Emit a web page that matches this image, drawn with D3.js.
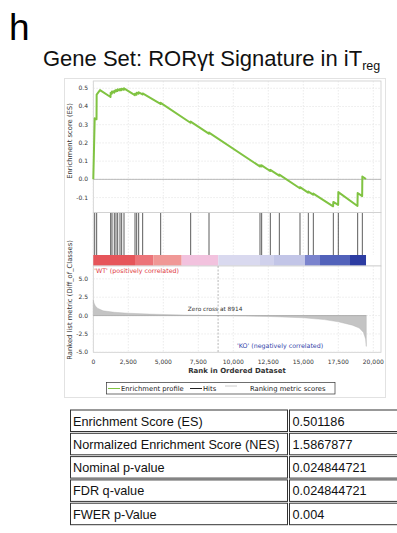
<!DOCTYPE html>
<html>
<head>
<meta charset="utf-8">
<script src="https://cdn.jsdelivr.net/npm/d3@7"></script>
<style>
  body { margin: 0; background: #fff; }
  svg { display: block; }
</style>
</head>
<body>
<div id="chart"></div>
<script>
// running enrichment score
const esRank = [0, 100, 230, 240, 480, 1230, 1240, 1325, 1336, 1490, 1502, 1610, 1621, 1730, 1741, 1895, 1907, 2015, 2026, 2180, 2193,
  2965, 2979, 3085, 3098, 3230, 3241, 3515, 3526, 4800, 4812, 6940, 6955, 8250, 8265, 11895, 11907, 12015, 12026, 12630, 12645,
  13275, 13288, 14750, 14764, 15345, 15360, 15700, 15717, 17130, 17145, 17490, 17502, 18870, 18883, 19205, 19217, 19480];
const esScore = [0, 0.335, 0.33, 0.465, 0.49, 0.452, 0.475, 0.47, 0.483, 0.476, 0.487, 0.482, 0.49, 0.485, 0.494, 0.488, 0.496, 0.49, 0.498, 0.492, 0.5,
  0.462, 0.47, 0.465, 0.476, 0.47, 0.478, 0.466, 0.472, 0.414, 0.42, 0.311, 0.317, 0.251, 0.257, 0.071, 0.077, 0.071, 0.077, 0.046, 0.052,
  0.02, 0.026, -0.049, -0.043, -0.073, -0.067, -0.084, -0.078, -0.148, -0.124, -0.14, -0.07, -0.146, -0.075, -0.092, 0.015, 0.002];

// gene set members in the ranked list
const hits = [100, 240, 1240, 1336, 1502, 1621, 1741, 1907, 2026, 2193, 2979, 3098, 3241, 3526, 4812, 6955, 8265,
  11907, 12026, 12645, 13288, 14764, 15360, 15717, 17145, 17502, 18883, 19217];

// ranked list metric
const metricRank = [0, 50, 150, 300, 700, 1500, 2500, 4000, 5000, 6500, 8000, 8914, 10000, 12500, 15000, 16500, 17500, 18500, 19000, 19300, 19450, 19500];
const metricValue = [2.1, 1.7, 1.3, 1.0, 0.65, 0.45, 0.32, 0.2, 0.15, 0.08, 0.03, 0, -0.04, -0.12, -0.3, -0.55, -0.85, -1.3, -1.7, -2.3, -3.2, -4.2];
const zeroCross = 8914;

// heat bar blocks
const bandStart = [0, 2979, 4288, 6312, 8930, 11907, 12859, 15121, 16193, 18336];
const bandEnd = [2979, 4288, 6312, 8930, 11907, 12859, 15121, 16193, 18336, 19480];
const bandColor = ["#e6555a", "#ec7479", "#f09896", "#f2c2de", "#d9d9ef", "#d0d1ec", "#c2c5e7", "#7a83cd", "#5262ba", "#2c3ca2"];

const xTicks = [0, 2500, 5000, 7500, 10000, 12500, 15000, 17500, 20000];
const esTicks = [0.5, 0.4, 0.3, 0.2, 0.1, 0.0, -0.1];
const metricTicks = [5, 2.5, 0, -2.5, -5];

const statLabels = ["Enrichment Score (ES)", "Normalized Enrichment Score (NES)", "Nominal p-value", "FDR q-value", "FWER p-Value"];
const statValues = ["0.501186", "1.5867877", "0.024844721", "0.024844721", "0.004"];

const W = 397, H = 533;
const svg = d3.select('#chart').append('svg').attr('width', W).attr('height', H);
const small = 'DejaVu Sans';

const x = d3.scaleLinear().domain([0, 20550]).range([93.3, 381]);
const yEs = d3.scaleLinear().domain([-0.182, 0.54]).range([212.5, 81]);
const yM = d3.scaleLinear().domain([-5, 6.75]).range([352.3, 266]);

// panel label + title
svg.append('text').attr('x', 9).attr('y', 40).attr('font-family', 'Liberation Sans')
  .attr('font-size', 37).text('h');
const title = svg.append('text').attr('x', 43).attr('y', 66).attr('font-family', 'Liberation Sans')
  .attr('font-size', 22).attr('fill', '#111');
title.append('tspan').text('Gene Set: RORγt Signature in iT');
title.append('tspan').attr('font-size', 12.5).attr('dy', 4).text('reg');

// outer frame
svg.append('rect').attr('x', 64.5).attr('y', 78.5).attr('width', 321).attr('height', 319)
  .attr('fill', 'none').attr('stroke', '#e2e2e2');

const [x0, x1] = x.range();

function grid(g, y, yticks, top, bottom) {
  g.selectAll('.v').data(xTicks).join('line')
    .attr('x1', d => x(d)).attr('x2', d => x(d)).attr('y1', top).attr('y2', bottom)
    .attr('stroke', '#ddd').attr('stroke-dasharray', '1.5,1.5').attr('stroke-width', 0.6);
  if (yticks) g.selectAll('.h').data(yticks).join('line')
    .attr('x1', x0).attr('x2', x1).attr('y1', d => y(d)).attr('y2', d => y(d))
    .attr('stroke', '#ddd').attr('stroke-dasharray', '1.5,1.5').attr('stroke-width', 0.6);
}

// ES panel
const gEs = svg.append('g');
gEs.append('rect').attr('x', x0).attr('y', 81).attr('width', x1 - x0).attr('height', 131.5).attr('fill', '#fff')
  .attr('stroke', '#ccc').attr('stroke-width', 0.8);
grid(gEs, yEs, esTicks, 81, 212.5);
gEs.append('line').attr('x1', x0).attr('x2', x1).attr('y1', yEs(0)).attr('y2', yEs(0))
  .attr('stroke', '#aaa').attr('stroke-width', 0.8);
gEs.append('path').datum(d3.zip(esRank, esScore))
  .attr('d', d3.line().x(d => x(d[0])).y(d => yEs(d[1])))
  .attr('fill', 'none').attr('stroke', '#80c342').attr('stroke-width', 2).attr('stroke-linejoin', 'round');
gEs.selectAll('.t').data(esTicks).join('text')
  .attr('x', 88).attr('y', d => yEs(d) + 2).attr('text-anchor', 'end')
  .attr('font-family', small).attr('font-size', 6).attr('fill', '#333').text(d => d.toFixed(1));
svg.append('text').attr('transform', 'translate(72,141) rotate(-90)').attr('text-anchor', 'middle')
  .attr('font-family', small).attr('font-size', 6.8).attr('fill', '#333').text('Enrichment score (ES)');

// hits panel
const gH = svg.append('g');
gH.append('rect').attr('x', x0).attr('y', 212.5).attr('width', x1 - x0).attr('height', 53.5).attr('fill', '#fff')
  .attr('stroke', '#ccc').attr('stroke-width', 0.8);
grid(gH, null, null, 212.5, 255);
gH.selectAll('.hit').data(hits).join('line')
  .attr('x1', d => x(d)).attr('x2', d => x(d)).attr('y1', 213).attr('y2', 255)
  .attr('stroke', '#333').attr('stroke-width', 0.8);
gH.selectAll('.band').data(bandStart).join('rect')
  .attr('x', d => x(d)).attr('width', (d, i) => x(bandEnd[i]) - x(d))
  .attr('y', 255).attr('height', 10.5).attr('fill', (d, i) => bandColor[i]);

// ranked metric panel
const gM = svg.append('g');
gM.append('rect').attr('x', x0).attr('y', 266).attr('width', x1 - x0).attr('height', 352.3 - 266).attr('fill', '#fff')
  .attr('stroke', '#ccc').attr('stroke-width', 0.8);
grid(gM, yM, metricTicks, 266, 352.3);
gM.append('path').datum(d3.zip(metricRank, metricValue))
  .attr('d', d3.area().x(d => x(d[0])).y0(yM(0)).y1(d => yM(d[1])))
  .attr('fill', '#c4c4c4').attr('stroke', '#b0b0b0').attr('stroke-width', 0.4);
gM.append('line').attr('x1', x0).attr('x2', x(19500)).attr('y1', yM(0)).attr('y2', yM(0))
  .attr('stroke', '#aaa').attr('stroke-width', 0.8);
gM.append('line').attr('x1', x(zeroCross)).attr('x2', x(zeroCross)).attr('y1', 266).attr('y2', 352.3)
  .attr('stroke', '#888').attr('stroke-dasharray', '2,1.5').attr('stroke-width', 0.6);
gM.append('text').attr('x', x(zeroCross) - 3).attr('y', yM(0) - 5).attr('text-anchor', 'middle')
  .attr('font-family', small).attr('font-size', 5.8).attr('fill', '#333').text('Zero cross at ' + zeroCross);
gM.append('text').attr('x', x0 + 1).attr('y', 273).attr('font-family', small).attr('font-size', 6.3)
  .attr('fill', '#e0393e').text("'WT' (positively correlated)");
gM.append('text').attr('x', 237).attr('y', 348).attr('font-family', small).attr('font-size', 6.3)
  .attr('fill', '#3344aa').text("'KO' (negatively correlated)");
gM.selectAll('.t').data(metricTicks).join('text')
  .attr('x', 88).attr('y', d => yM(d) + 2).attr('text-anchor', 'end')
  .attr('font-family', small).attr('font-size', 6).attr('fill', '#333').text(d => d.toFixed(1));
svg.append('text').attr('transform', 'translate(72,300) rotate(-90)').attr('text-anchor', 'middle')
  .attr('font-family', small).attr('font-size', 6.8).attr('fill', '#333').text('Ranked list metric (Diff_of_Classes)');

// x axis
svg.selectAll('.xt').data(xTicks).join('text')
  .attr('x', d => x(d)).attr('y', 363.5).attr('text-anchor', 'middle')
  .attr('font-family', small).attr('font-size', 6).attr('fill', '#333').text(d => d3.format(',')(d));
svg.append('text').attr('x', 237).attr('y', 372.5).attr('text-anchor', 'middle')
  .attr('font-family', small).attr('font-size', 7).attr('font-weight', 'bold').attr('fill', '#333')
  .text('Rank in Ordered Dataset');

// legend
const lg = svg.append('g');
lg.append('rect').attr('x', 106.5).attr('y', 382.5).attr('width', 228.5).attr('height', 11.5)
  .attr('fill', '#fff').attr('stroke', '#333').attr('stroke-width', 0.7);
const legendItems = [
  {label: 'Enrichment profile', color: '#80c342', x: 108, y: 388.5},
  {label: 'Hits', color: '#222', x: 190, y: 388.5},
  {label: 'Ranking metric scores', color: '#ccc', x: 225, y: 386}
];
legendItems.forEach(d => {
  lg.append('line').attr('x1', d.x).attr('x2', d.x + 12).attr('y1', d.y).attr('y2', d.y)
    .attr('stroke', d.color).attr('stroke-width', 1);
});
lg.selectAll('.lt').data(legendItems).join('text')
  .attr('x', (d, i) => [121, 203, 250][i]).attr('y', 390.8)
  .attr('font-family', small).attr('font-size', 6.8).attr('fill', '#222').text(d => d.label);

// stats table
const rowTop = i => 410 + i * 23.3;
const tb = svg.append('g').attr('font-family', 'Liberation Sans').attr('font-size', 12.7).attr('fill', '#111');
tb.selectAll('.c1').data(statLabels).join('rect')
  .attr('x', 70.5).attr('y', (d, i) => rowTop(i)).attr('width', 217).attr('height', 21.5)
  .attr('fill', '#fff').attr('stroke', '#333').attr('stroke-width', 1);
tb.selectAll('.c2').data(statValues).join('rect')
  .attr('x', 289.5).attr('y', (d, i) => rowTop(i)).attr('width', 120).attr('height', 21.5)
  .attr('fill', '#fff').attr('stroke', '#333').attr('stroke-width', 1);
tb.selectAll('.l').data(statLabels).join('text')
  .attr('x', 73).attr('y', (d, i) => rowTop(i) + 15.5).text(d => d);
tb.selectAll('.v').data(statValues).join('text')
  .attr('x', 292.5).attr('y', (d, i) => rowTop(i) + 15.5).text(d => d);
</script>
</body>
</html>
